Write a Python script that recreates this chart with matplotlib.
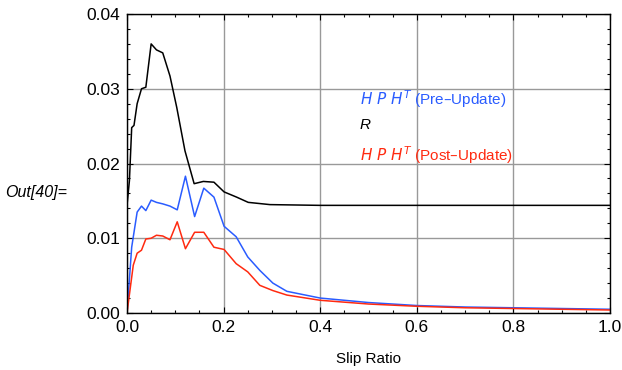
import numpy as np
import matplotlib.pyplot as plt
from matplotlib.ticker import MultipleLocator

plt.rcParams['font.family'] = ['Liberation Sans', 'DejaVu Sans']

# Data
x_r = [0.0, 0.005, 0.0097, 0.0145, 0.021, 0.030, 0.039, 0.050, 0.061, 0.074,
       0.089, 0.103, 0.120, 0.139, 0.158, 0.180, 0.201, 0.227, 0.251, 0.296,
       0.4, 0.6, 0.8, 1.0]
r_vals = [0.0144, 0.0177, 0.0248, 0.0251, 0.0280, 0.0300, 0.0302, 0.0360, 0.0352, 0.0348,
          0.0317, 0.0275, 0.0217, 0.0173, 0.0176, 0.0175, 0.0162, 0.0155, 0.0148, 0.0145,
          0.0144, 0.0144, 0.0144, 0.0144]

x_hp = [0.0, 0.0097, 0.021, 0.030, 0.039, 0.050, 0.061, 0.074, 0.089, 0.104,
        0.121, 0.140, 0.159, 0.180, 0.201, 0.226, 0.250, 0.275, 0.302, 0.331,
        0.40, 0.5, 0.6, 0.7, 0.8, 0.9, 1.0]
pre_vals = [0.0, 0.0088, 0.0135, 0.0143, 0.0137, 0.0151, 0.0148, 0.0146, 0.0143, 0.0138,
            0.0183, 0.0129, 0.0167, 0.0155, 0.0116, 0.0102, 0.0075, 0.0057, 0.0040, 0.0029,
            0.0020, 0.0014, 0.0010, 0.0008, 0.0007, 0.0006, 0.0005]
x_hp_post = [0.0, 0.013, 0.021, 0.030, 0.039, 0.050, 0.061, 0.074, 0.089, 0.104,
             0.121, 0.140, 0.159, 0.180, 0.201, 0.226, 0.250, 0.275, 0.302, 0.331,
             0.40, 0.5, 0.6, 0.7, 0.8, 0.9, 1.0]
post_vals = [0.0, 0.0064, 0.0080, 0.0084, 0.0099, 0.0100, 0.0104, 0.0103, 0.0098, 0.0122,
             0.0086, 0.0108, 0.0108, 0.0088, 0.0085, 0.0066, 0.0055, 0.0037, 0.0030, 0.0024,
             0.0017, 0.0012, 0.0009, 0.0007, 0.0006, 0.0005, 0.0004]

blue = '#2a5cff'
red = '#ff2a10'

fig = plt.figure(figsize=(6.22, 3.70), dpi=100)
ax = fig.add_axes([127 / 622, 57 / 370, 483 / 622, 299 / 370])

ax.plot(x_hp, pre_vals, color=blue, lw=1.1)
ax.plot(x_r, r_vals, color='black', lw=1.1)
ax.plot(x_hp_post, post_vals, color=red, lw=1.1)

ax.set_xlim(0, 1.0)
ax.set_ylim(0, 0.04)
ax.xaxis.set_minor_locator(MultipleLocator(0.05))
ax.yaxis.set_minor_locator(MultipleLocator(0.002))
ax.set_xticks([0, 0.2, 0.4, 0.6, 0.8, 1.0])
ax.set_xticklabels(['0.0', '0.2', '0.4', '0.6', '0.8', '1.0'])
ax.set_yticks([0, 0.01, 0.02, 0.03, 0.04])
ax.set_yticklabels(['0.00', '0.01', '0.02', '0.03', '0.04'])
ax.tick_params(which='both', direction='in', top=True, right=True, labelsize=12.5)
ax.tick_params(which='major', length=4.5, width=0.8, pad=5)
ax.tick_params(which='minor', length=2.5, width=0.8)
ax.grid(True, which='major', color='#999999', lw=1.0)
for s in ax.spines.values():
    s.set_linewidth(1.0)

ax.set_xlabel('Slip Ratio', fontsize=11, labelpad=12)

label_pre = r'$\it{H\ P\ H}^{\it{T}}$' + ' (Pre\u2013Update)'
label_post = r'$\it{H\ P\ H}^{\it{T}}$' + ' (Post\u2013Update)'
ax.text(0.482, 0.716, label_pre, transform=ax.transAxes,
        color=blue, fontsize=11, va='center')
ax.text(0.482, 0.628, 'R', style='italic', transform=ax.transAxes,
        color='black', fontsize=11, va='center')
ax.text(0.482, 0.528, label_post, transform=ax.transAxes,
        color=red, fontsize=11, va='center')

fig.text(5 / 622, 1 - 193 / 370, 'Out[40]=', style='italic', fontsize=11.5, va='center')

fig.savefig('out.png', dpi=100)
